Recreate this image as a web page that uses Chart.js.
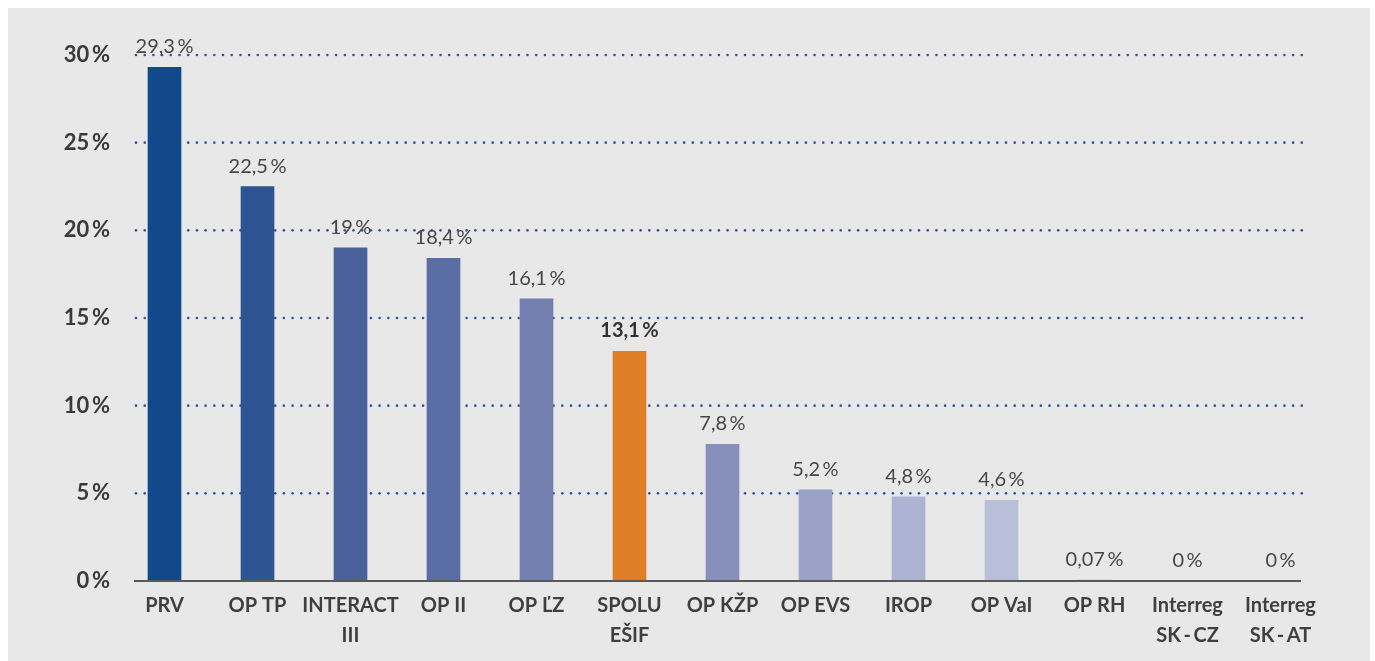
<!DOCTYPE html>
<html lang="sk">
<head>
  <meta charset="UTF-8" />
  <title>Podiel podľa programov</title>
  <script src="https://cdn.jsdelivr.net/npm/chart.js"></script>
  <style>
    body { margin: 0; background: #fff; font-family: Lato, sans-serif; }
    #panel {
      position: absolute;
      left: 8px;
      top: 8px;
      width: 1362px;
      height: 653px;
      background: #e8e8e8;
    }
  </style>
</head>
<body>
  <div id="panel">
    <canvas id="podielChart" width="1362" height="653"></canvas>
  </div>

  <script>
    // dáta
    const categories = ['PRV', 'OP TP', ['INTERACT', 'III'], 'OP II', 'OP ĽZ', ['SPOLU', 'EŠIF'],
      'OP KŽP', 'OP EVS', 'IROP', 'OP VaI', 'OP RH', ['Interreg', 'SK\u2009-\u2009CZ'], ['Interreg', 'SK\u2009-\u2009AT']];
    const shares = [29.3, 22.5, 19, 18.4, 16.1, 13.1, 7.8, 5.2, 4.8, 4.6, 0.07, 0, 0];
    const barColors = ['#11498a', '#2d5592', '#48619b', '#5a6ea5', '#727faf', '#e07e27',
      '#8690ba', '#9aa2c5', '#adb3d2', '#b9bed9', '#c5c9e2', '#c5c9e2', '#c5c9e2'];
    const yTicks = [0, 5, 10, 15, 20, 25, 30];
    const highlightIndex = 5;

    const fmt = v => String(v).replace('.', ',') + '\u2009%';

    // bodkované mriežky + os + popisky hodnôt
    const decorations = {
      id: 'decorations',
      beforeDatasetsDraw(chart) {
        const ctx = chart.ctx;
        const y = chart.scales.y;
        ctx.save();
        ctx.fillStyle = '#2b55a3';
        yTicks.forEach(t => {
          if (t === 0) return;
          const py = y.getPixelForValue(t);
          for (let px = 128; px <= 1300; px += 8.7) {
            ctx.beginPath();
            ctx.arc(px, py, 1.3, 0, Math.PI * 2);
            ctx.fill();
          }
        });
        ctx.restore();
      },
      afterDatasetsDraw(chart) {
        const ctx = chart.ctx;
        const area = chart.chartArea;
        ctx.save();
        ctx.strokeStyle = '#595959';
        ctx.lineWidth = 2;
        ctx.beginPath();
        ctx.moveTo(126, area.bottom);
        ctx.lineTo(1293, area.bottom);
        ctx.stroke();

        const meta = chart.getDatasetMeta(0);
        ctx.textAlign = 'center';
        ctx.textBaseline = 'alphabetic';
        meta.data.forEach((bar, i) => {
          const bold = i === highlightIndex;
          ctx.font = (bold ? 'bold ' : '') + '20px Lato, sans-serif';
          ctx.fillStyle = bold ? '#333' : '#474747';
          ctx.fillText(fmt(shares[i]), bar.x, Math.min(bar.y, area.bottom) - 14);
        });
        ctx.restore();
      }
    };

    new Chart(document.getElementById('podielChart'), {
      type: 'bar',
      data: {
        labels: categories,
        datasets: [{
          data: shares,
          backgroundColor: barColors,
          borderWidth: 0,
          barThickness: 33
        }]
      },
      options: {
        responsive: false,
        animation: false,
        layout: { padding: { top: 47, right: 43, left: 0, bottom: 0 } },
        plugins: { legend: { display: false }, tooltip: { enabled: false } },
        scales: {
          x: {
            grid: { display: false, drawTicks: false },
            border: { display: false },
            ticks: {
              color: '#3f3f3f',
              padding: 10,
              maxRotation: 0,
              autoSkip: false,
              font: { family: 'Lato', size: 20, weight: 'bold', lineHeight: 1.5 }
            },
            afterFit(scale) { scale.height = 80; }
          },
          y: {
            min: 0,
            max: 30,
            grid: { display: false, drawTicks: false },
            border: { display: false },
            ticks: {
              stepSize: 5,
              color: '#3a3a3a',
              padding: 8,
              font: { family: 'Lato', size: 22, weight: 'bold' },
              callback: v => fmt(v)
            },
            afterFit(scale) { scale.width = 110; }
          }
        }
      },
      plugins: [decorations]
    });
  </script>
</body>
</html>
